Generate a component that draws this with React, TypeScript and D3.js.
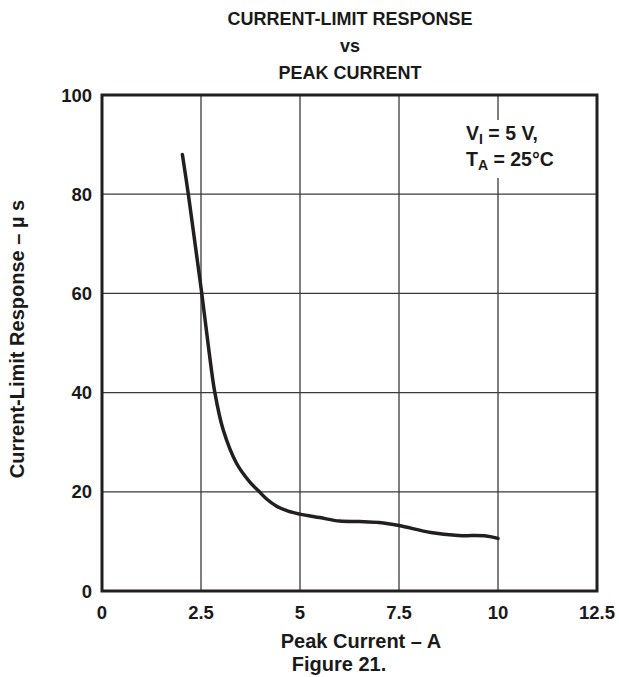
import React from "react";
import * as d3 from "d3";

const xTicks = [0, 2.5, 5, 7.5, 10, 12.5];
const yTicks = [0, 20, 40, 60, 80, 100];
const xTickLabels = ["0", "2.5", "5", "7.5", "10", "12.5"];
const yTickLabels = ["0", "20", "40", "60", "80", "100"];

const peakCurrent = [2.03, 2.18, 2.35, 2.52, 2.7, 2.85, 3.06, 3.4, 3.74, 3.95, 4.15, 4.41, 4.7, 5.0, 5.5, 6.0, 6.5, 7.0, 7.5, 8.3, 9.0, 9.7, 10.0];
const response = [88, 80, 70, 60, 48.5, 40, 32.5, 25.7, 21.9, 20.2, 18.6, 17.1, 16.1, 15.5, 14.8, 14.1, 14.0, 13.8, 13.2, 11.8, 11.2, 11.1, 10.6];

const titleLines = ["CURRENT-LIMIT RESPONSE", "vs", "PEAK CURRENT"];

export default function App() {
  const W = 619, H = 677;
  const x = d3.scaleLinear().domain([0, 12.5]).range([102, 597]);
  const y = d3.scaleLinear().domain([0, 100]).range([591, 95]);
  const pts: [number, number][] = peakCurrent.map((p, i) => [p, response[i]]);
  const line = d3.line<[number, number]>().x(d => x(d[0])).y(d => y(d[1])).curve(d3.curveCatmullRom.alpha(0.5));
  const font = "'Liberation Sans', Arial, Helvetica, sans-serif";
  const ink = "#1a1a1a";
  return (
    <svg width={W} height={H} style={{ position: "absolute", left: 0, top: 0, background: "#fff" }} fontFamily={font} fontWeight="bold">
      <rect x={0} y={0} width={W} height={H} fill="#fff" />
      {titleLines.map((t, i) => (
        <text key={t} x={350} y={25 + i * 27} textAnchor="middle" fontSize={18} fill={ink}>{t}</text>
      ))}
      {xTicks.slice(1, -1).map(v => (
        <line key={"gx" + v} x1={x(v)} x2={x(v)} y1={y(0)} y2={y(100)} stroke="#3a3a3a" strokeWidth={1.3} />
      ))}
      {yTicks.slice(1, -1).map(v => (
        <line key={"gy" + v} x1={x(0)} x2={x(12.5)} y1={y(v)} y2={y(v)} stroke="#3a3a3a" strokeWidth={1.3} />
      ))}
      <rect x={463} y={120} width={112} height={58} fill="#fff" />
      <text x={466} y={140} fontSize={19.5} fill={ink}>
        V<tspan fontSize={14} dy={4}>I</tspan><tspan dy={-4}> = 5 V,</tspan>
      </text>
      <text x={466} y={166} fontSize={19.5} fill={ink}>
        T<tspan fontSize={14} dy={4}>A</tspan><tspan dy={-4}> = 25°C</tspan>
      </text>
      <path d={line(pts) || ""} fill="none" stroke="#231f20" strokeWidth={3.5} strokeLinecap="round" strokeLinejoin="round" />
      <rect x={x(0)} y={y(100)} width={x(12.5) - x(0)} height={y(0) - y(100)} fill="none" stroke="#231f20" strokeWidth={3} />
      {xTicks.map((v, i) => (
        <text key={"xl" + v} x={x(v)} y={619} textAnchor="middle" fontSize={18.5} fill={ink}>{xTickLabels[i]}</text>
      ))}
      {yTicks.map((v, i) => (
        <text key={"yl" + v} x={92} y={y(v) + 6.5} textAnchor="end" fontSize={18.5} fill={ink}>{yTickLabels[i]}</text>
      ))}
      <text x={361} y={648} textAnchor="middle" fontSize={20} fill={ink}>Peak Current – A</text>
      <text x={339} y={671} textAnchor="middle" fontSize={20} fill={ink}>Figure 21.</text>
      <text transform="translate(24,339) rotate(-90)" textAnchor="middle" fontSize={20} fill={ink}>Current-Limit Response – µ s</text>
    </svg>
  );
}
